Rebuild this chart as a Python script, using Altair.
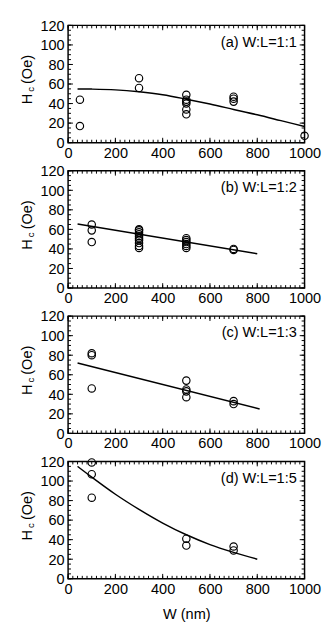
import altair as alt
import pandas as pd

# ---------------- data ----------------
# (a) W:L=1:1
a_w = [50, 50, 300, 300, 500, 500, 500, 500, 500, 500, 700, 700, 700, 1000]
a_h = [44, 17, 66, 56, 49, 44, 42, 40, 34, 29, 47, 45, 42, 7]
a_fit_w = [40, 100, 200, 300, 400, 500, 600, 700, 800, 900, 1000]
a_fit_h = [55, 54.8, 54, 52, 49, 44.5, 39.5, 34, 28.5, 22.5, 16.5]

# (b) W:L=1:2
b_w = [100, 100, 100,
       300, 300, 300, 300, 300, 300, 300, 300, 300, 300,
       500, 500, 500, 500, 500, 500,
       700, 700]
b_h = [65, 59, 47,
       60, 59, 57, 55, 53, 51, 49, 46, 43, 41,
       51, 49, 47, 45, 43, 41,
       40, 39]
b_fit_w = [40, 800]
b_fit_h = [65.5, 35]

# (c) W:L=1:3
c_w = [100, 100, 100, 500, 500, 500, 500, 700, 700]
c_h = [82, 80, 46, 54, 45, 43, 37, 33, 30]
c_fit_w = [40, 810]
c_fit_h = [72, 25]

# (d) W:L=1:5
d_w = [100, 100, 100, 500, 500, 700, 700]
d_h = [119, 107, 83, 41, 34, 33, 29]
d_fit_w = [40, 100, 200, 300, 400, 500, 600, 700, 800]
d_fit_h = [115, 104, 86.5, 71, 57, 45, 35, 27, 20]

labels = ["(a) W:L=1:1", "(b) W:L=1:2", "(c) W:L=1:3", "(d) W:L=1:5"]

x_ticks = [0, 200, 400, 600, 800, 1000]
y_ticks = [0, 20, 40, 60, 80, 100, 120]
x_minor = list(range(0, 1001, 20))
y_minor = list(range(0, 121, 5))

# ---------------- styling ----------------
W, H = 244, 121
FONT = "Liberation Sans"
FS = 15
MAJ, MIN = 5, 3

xs = alt.Scale(domain=[0, 1000], nice=False, zero=False)
ys = alt.Scale(domain=[0, 120], nice=False, zero=False)


def xaxis():
    return alt.Axis(values=x_ticks, ticks=False, domain=False, grid=False,
                    labelPadding=3, labelFontSize=FS, labelFont=FONT,
                    labelColor="black", labelFlush=False, labelOverlap=False,
                    titleFont=FONT, titleFontSize=FS,
                    titleFontWeight="normal", titleColor="black",
                    titlePadding=11, format="d")


def yaxis():
    return alt.Axis(values=y_ticks, ticks=False, domain=False, grid=False,
                    labelPadding=4, labelFontSize=FS, labelFont=FONT,
                    labelColor="black", labelFlush=False, labelOverlap=False,
                    format="d")


def X(field, last):
    if last:
        return alt.X(field, type="quantitative", scale=xs, axis=xaxis(), title="W (nm)")
    return alt.X(field, type="quantitative", scale=xs, axis=xaxis(), title=None)


def Y(field):
    return alt.Y(field, type="quantitative", scale=ys, axis=yaxis(), title=None)


def panel(pw, ph, fw, fh, label, last=False):
    pts = pd.DataFrame({"w": pw, "h": ph})
    fit = pd.DataFrame({"w": fw, "h": fh})
    xmaj = pd.DataFrame({"v": x_ticks})
    xmin = pd.DataFrame({"v": x_minor})
    ymaj = pd.DataFrame({"v": y_ticks})
    ymin = pd.DataFrame({"v": y_minor})

    layers = []
    # inward ticks on all four sides
    for df, ln in ((xmaj, MAJ), (xmin, MIN)):
        layers.append(alt.Chart(df).mark_rule(color="black", strokeWidth=1).encode(
            x=X("v", last), y=alt.value(H), y2=alt.value(H - ln)))
        layers.append(alt.Chart(df).mark_rule(color="black", strokeWidth=1).encode(
            x=X("v", last), y=alt.value(0), y2=alt.value(ln)))
    for df, ln in ((ymaj, MAJ), (ymin, MIN)):
        layers.append(alt.Chart(df).mark_rule(color="black", strokeWidth=1).encode(
            y=Y("v"), x=alt.value(0), x2=alt.value(ln)))
        layers.append(alt.Chart(df).mark_rule(color="black", strokeWidth=1).encode(
            y=Y("v"), x=alt.value(W), x2=alt.value(W - ln)))

    line = alt.Chart(fit).mark_line(color="black", strokeWidth=1.5, interpolate="monotone").encode(
        x=X("w", last), y=Y("h"))
    points = alt.Chart(pts).mark_point(shape="circle", filled=False, size=58,
                                       color="black", strokeWidth=1.2, opacity=1).encode(
        x=X("w", last), y=Y("h"))

    ann = alt.Chart(pd.DataFrame({"t": [label]})).mark_text(
        align="right", baseline="middle", fontSize=FS, font=FONT, color="black").encode(
        x=alt.value(W - 8), y=alt.value(17), text="t:N")

    t_h = alt.Chart(pd.DataFrame({"t": ["H"]})).mark_text(
        align="center", baseline="middle", angle=270, fontSize=FS, font=FONT, color="black").encode(
        x=alt.value(-42), y=alt.value(76), text="t:N")
    t_c = alt.Chart(pd.DataFrame({"t": ["c"]})).mark_text(
        align="center", baseline="middle", angle=270, fontSize=10, font=FONT, color="black").encode(
        x=alt.value(-38), y=alt.value(66), text="t:N")
    t_oe = alt.Chart(pd.DataFrame({"t": ["(Oe)"]})).mark_text(
        align="center", baseline="middle", angle=270, fontSize=FS, font=FONT, color="black").encode(
        x=alt.value(-42), y=alt.value(45.5), text="t:N")

    return alt.layer(points, line, *layers, ann, t_h, t_c, t_oe).properties(width=W, height=H)


chart = alt.vconcat(
    panel(a_w, a_h, a_fit_w, a_fit_h, labels[0]),
    panel(b_w, b_h, b_fit_w, b_fit_h, labels[1]),
    panel(c_w, c_h, c_fit_w, c_fit_h, labels[2]),
    panel(d_w, d_h, d_fit_w, d_fit_h, labels[3], last=True),
    spacing=2,
).properties(
    padding={"left": 12, "top": 0, "right": 0, "bottom": 0}
).configure_view(
    stroke="black", strokeWidth=1.5
)

chart.save("out.html", embed_options={"renderer": "svg", "actions": False})
